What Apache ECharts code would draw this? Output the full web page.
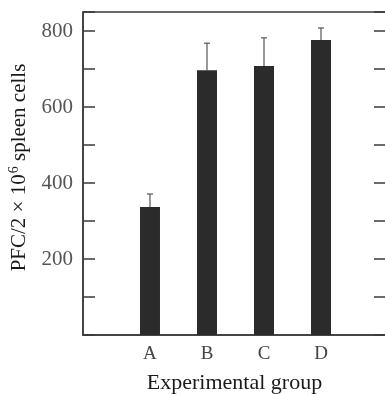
<!DOCTYPE html>
<html>
<head>
<meta charset="utf-8">
<script src="https://cdn.jsdelivr.net/npm/echarts@6/dist/echarts.min.js"></script>
<style>html,body{margin:0;padding:0;background:#fff;}#c{width:385px;height:394px;}</style>
</head>
<body>
<div id="c"></div>
<script>
const categories = ['A', 'B', 'C', 'D'];
const means = [337, 697, 708, 776];
const errorTops = [371, 768, 782, 808];
const yTickLabels = [200, 400, 600, 800];

const serif = '"Liberation Serif", "DejaVu Serif", serif';
const lineColor = '#3a3a3a';

const chart = echarts.init(document.getElementById('c'));
const idx = categories.map((c, i) => i);

chart.setOption({
  animation: false,
  grid: { left: 83, top: 12, right: -1, bottom: 59, outerBoundsMode: 'none', containLabel: false, show: true, borderColor: lineColor, borderWidth: 1.5, backgroundColor: 'transparent' },
  xAxis: {
    type: 'value', min: -1.175, max: 4.14,
    splitLine: { show: false },
    axisLine: { show: true, onZero: false, lineStyle: { color: lineColor, width: 1.5 } },
    axisTick: { show: false },
    axisLabel: {
      customValues: idx,
      formatter: v => categories[Math.round(v)] || '',
      color: '#444', fontFamily: serif, fontSize: 19, margin: 10
    },
    name: 'Experimental group', nameLocation: 'middle', nameGap: 37,
    nameTextStyle: { color: '#1a1a1a', fontFamily: serif, fontSize: 22 }
  },
  yAxis: [{
    type: 'value', min: 0, max: 850, interval: 100,
    splitLine: { show: false },
    axisLine: { show: true, onZero: false, lineStyle: { color: lineColor, width: 1.5 } },
    axisTick: { show: true, inside: true, length: 12, lineStyle: { color: lineColor, width: 1.5 } },
    axisLabel: {
      formatter: v => yTickLabels.indexOf(v) >= 0 ? String(v) : '',
      color: '#555', fontFamily: serif, fontSize: 21, margin: 10
    },
    name: '{a|PFC/2 × 10}{s|6}{a| spleen cells}', nameLocation: 'middle', nameGap: 52, nameRotate: 90,
    nameTextStyle: {
      padding: [0, 0, 0, 12],
      rich: {
        a: { color: '#1a1a1a', fontFamily: serif, fontSize: 21, lineHeight: 24 },
        s: { color: '#1a1a1a', fontFamily: serif, fontSize: 14, lineHeight: 24, verticalAlign: 'top', padding: [0, 0, 0, 1] }
      }
    }
  }, {
    type: 'value', min: 0, max: 850, interval: 100, position: 'right',
    splitLine: { show: false },
    axisLine: { show: false, onZero: false },
    axisTick: { show: true, inside: true, length: 12, lineStyle: { color: lineColor, width: 1.5 } },
    axisLabel: { show: false }
  }],
  series: [{
    type: 'bar',
    barWidth: 20,
    itemStyle: { color: '#2b2b2b' },
    data: idx.map(i => [i, means[i]])
  }, {
    type: 'custom',
    z: 1,
    data: idx.map(i => [i, means[i], errorTops[i]]),
    renderItem: (params, api) => {
      const base = api.coord([api.value(0), api.value(1)]);
      const top = api.coord([api.value(0), api.value(2)]);
      const st = { stroke: '#555', lineWidth: 1.2 };
      return {
        type: 'group',
        children: [
          { type: 'line', shape: { x1: top[0], y1: top[1], x2: base[0], y2: base[1] }, style: st },
          { type: 'line', shape: { x1: top[0] - 3, y1: top[1], x2: top[0] + 3, y2: top[1] }, style: st }
        ]
      };
    }
  }]
});
</script>
</body>
</html>
